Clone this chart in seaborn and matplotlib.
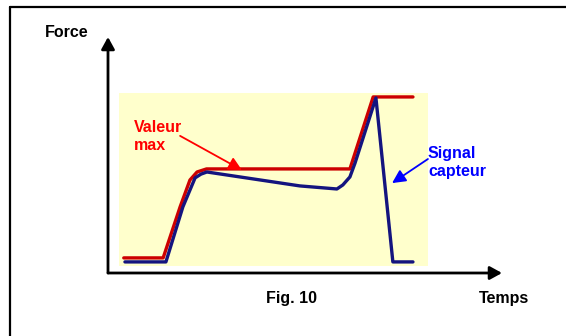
import matplotlib
matplotlib.use('Agg')
import matplotlib.pyplot as plt
from matplotlib.lines import Line2D
from matplotlib.patches import Rectangle
import seaborn as sns
import pandas as pd

# peak-hold curve ("Valeur max") and raw sensor curve ("Signal capteur")
max_t = [4.0, 14.0, 18.3, 20.8, 22.6, 25.0, 61.4, 67.3, 77.4]
max_f = [6.4, 6.4, 28.0, 39.4, 42.8, 44.1, 44.1, 74.6, 74.6]
sig_t = [4.3, 14.7, 19.0, 22.1, 23.6, 25.1, 48.7, 58.1, 59.6, 61.4, 62.7, 68.0, 72.3, 77.4]
sig_f = [4.7, 4.7, 28.0, 40.3, 41.9, 42.8, 36.9, 35.6, 37.3, 40.7, 46.6, 74.2, 4.7, 4.7]

x_label = 'Temps'
y_label = 'Force'
caption = 'Fig. 10'
max_label = 'Valeur\nmax'
sig_label = 'Signal\ncapteur'

sns.set_style('white')
plt.rcParams['font.family'] = ['Liberation Sans', 'DejaVu Sans']

fig = plt.figure(figsize=(5.66, 3.36), dpi=100)
ax = fig.add_axes([108 / 566, 63 / 336, 394 / 566, 236 / 336])
ax.set_xlim(0, 100)
ax.set_ylim(0, 100)
for s in ax.spines.values():
    s.set_visible(False)
ax.set_xticks([])
ax.set_yticks([])
ax.patch.set_alpha(0)

# pale yellow panel behind the curves
ax.add_patch(Rectangle((2.8, 3.0), 78.4, 73.3, facecolor='#FFFFCC', edgecolor='none', zorder=0))

df_max = pd.DataFrame({'t': max_t, 'f': max_f})
df_sig = pd.DataFrame({'t': sig_t, 'f': sig_f})
sns.lineplot(data=df_max, x='t', y='f', ax=ax, color='#CC0000', lw=2.4, sort=False,
             estimator=None, zorder=3)
sns.lineplot(data=df_sig, x='t', y='f', ax=ax, color='#14147F', lw=2.4, sort=False,
             estimator=None, zorder=4)
ax.set_xlabel('')
ax.set_ylabel('')

# axis arrows
axis_arrow = dict(arrowstyle='-|>,head_length=0.4,head_width=0.22', lw=2, color='black',
                  mutation_scale=18, shrinkA=0, shrinkB=0)
ax.annotate('', xy=(0, 1), xytext=(0, 0), xycoords='axes fraction', arrowprops=axis_arrow,
            annotation_clip=False)
ax.annotate('', xy=(1, 0), xytext=(0, 0), xycoords='axes fraction', arrowprops=axis_arrow,
            annotation_clip=False)

bold = dict(fontsize=11.5, fontweight='bold')
ax.text(-10.4, 101.7, y_label, ha='center', va='center', color='black', clip_on=False, **bold)
ax.text(100.5, -10.6, x_label, ha='center', va='center', color='black', clip_on=False, **bold)
ax.text(46.7, -10.6, caption, ha='center', va='center', color='black', clip_on=False, **bold)

# callouts
ax.text(6.6, 57.8, max_label, ha='left', va='center', color='#FF0000', linespacing=1.3, **bold)
ax.annotate('', xy=(34.0, 43.6), xytext=(18.3, 58.1),
            arrowprops=dict(arrowstyle='-|>,head_length=0.5,head_width=0.25', lw=1.3,
                            color='#FF0000', mutation_scale=16, shrinkA=0, shrinkB=0),
            zorder=5)
ax.text(81.2, 46.8, sig_label, ha='left', va='center', color='#0000FF', linespacing=1.3,
        clip_on=False, **bold)
ax.annotate('', xy=(72.1, 38.1), xytext=(81.2, 48.3),
            arrowprops=dict(arrowstyle='-|>,head_length=0.5,head_width=0.25', lw=1.3,
                            color='#0000FF', mutation_scale=16, shrinkA=0, shrinkB=0),
            zorder=5)

# frame (left and top edges visible)
fig.add_artist(Line2D([9.5 / 566, 9.5 / 566], [0, 1 - 6.5 / 336], color='black', lw=1.6))
fig.add_artist(Line2D([9.5 / 566, 1], [1 - 6.5 / 336, 1 - 6.5 / 336], color='black', lw=1.6))

fig.savefig('out.png', dpi=100)
